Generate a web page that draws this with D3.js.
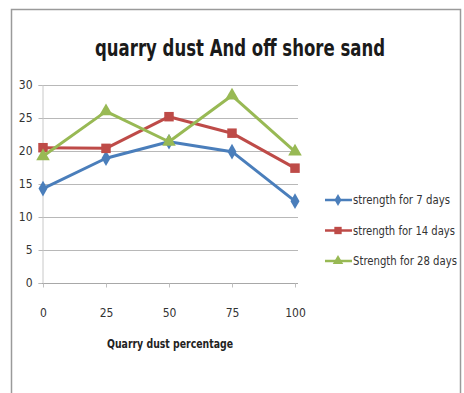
<!DOCTYPE html>
<html>
<head>
<meta charset="utf-8">
<script src="https://cdn.jsdelivr.net/npm/d3@7"></script>
<style>
  html, body { margin: 0; padding: 0; background: #fff; }
  svg { display: block; }
  text { font-family: "Liberation Sans Narrow", "DejaVu Sans Condensed", "Open Sans", sans-serif; }
</style>
</head>
<body>
<svg id="chart" width="464" height="393"></svg>
<script>
// Quarry dust replacement percentage (x categories)
const percentages = [0, 25, 50, 75, 100];
// Compressive strength values per curing period
const strength7 = [14.3, 18.9, 21.4, 19.9, 12.4];
const strength14 = [20.5, 20.4, 25.2, 22.7, 17.4];
const strength28 = [19.2, 26.0, 21.4, 28.4, 19.9];
const seriesNames = ["strength for 7 days", "strength for 14 days", "Strength for 28 days"];
const yTicks = [0, 5, 10, 15, 20, 25, 30];

const series = [
  { name: seriesNames[0], values: strength7, color: "#4A7EBB", shape: "diamond", w: 97 },
  { name: seriesNames[1], values: strength14, color: "#BE4B48", shape: "square", w: 102 },
  { name: seriesNames[2], values: strength28, color: "#98B954", shape: "triangle", w: 104 }
];

const svg = d3.select("#chart");

// chart frame
svg.append("path")
  .attr("d", "M11.5,393 V9.5 H460.5 V393")
  .attr("fill", "none").attr("stroke", "#9a9a9a").attr("stroke-width", 1.5);

const x = d3.scaleLinear().domain([0, 100]).range([43, 295]);
const y = d3.scaleLinear().domain([0, 30]).range([283, 85]);

// gridlines
svg.append("g").selectAll("line").data(yTicks.filter(d => d > 0)).join("line")
  .attr("x1", 42).attr("x2", 298)
  .attr("y1", d => Math.round(y(d)) + 0.5).attr("y2", d => Math.round(y(d)) + 0.5)
  .attr("stroke", "#b8b8b8").attr("stroke-width", 1);

// y axis
const yAxis = svg.append("g").attr("transform", "translate(42.5,0)")
  .call(d3.axisLeft(y).tickValues(yTicks).tickSize(4).tickPadding(6));
yAxis.select(".domain").attr("stroke", "#c8c8c8");
yAxis.selectAll(".tick line").attr("stroke", "#b8b8b8");
yAxis.selectAll("text").attr("font-size", 12).attr("fill", "#333");

// x axis
const xAxis = svg.append("g").attr("transform", "translate(0,283.5)")
  .call(d3.axisBottom(x).tickValues(percentages).tickSize(4).tickPadding(21).tickSizeOuter(0));
xAxis.select(".domain").attr("stroke", "#a8a8a8").attr("d", "M42,0H298");
xAxis.selectAll(".tick line").attr("stroke", "#c0c0c0");
xAxis.selectAll("text").attr("font-size", 12).attr("fill", "#333");

// title
svg.append("text").attr("x", 240).attr("y", 56).attr("text-anchor", "middle")
  .attr("font-size", 23).attr("font-weight", "bold").attr("fill", "#1a1a1a")
  .attr("textLength", 290).attr("lengthAdjust", "spacingAndGlyphs")
  .text("quarry dust And off shore sand");

// x axis title
svg.append("text").attr("x", 170).attr("y", 348).attr("text-anchor", "middle")
  .attr("font-size", 12.5).attr("font-weight", "bold").attr("fill", "#222")
  .attr("textLength", 126).attr("lengthAdjust", "spacingAndGlyphs")
  .text("Quarry dust percentage");

const symbolType = { diamond: d3.symbolDiamond, square: d3.symbolSquare, triangle: d3.symbolTriangle };
const symbolSize = { diamond: 70, square: 90, triangle: 80 };

const line = d3.line().x((d, i) => x(percentages[i])).y(d => y(d));

series.forEach(s => {
  svg.append("path").datum(s.values)
    .attr("d", line).attr("fill", "none")
    .attr("stroke", s.color).attr("stroke-width", 3).attr("stroke-linejoin", "round");
  svg.append("g").selectAll("path").data(s.values).join("path")
    .attr("transform", (d, i) => `translate(${x(percentages[i])},${y(d)})`)
    .attr("d", d3.symbol().type(symbolType[s.shape]).size(symbolSize[s.shape]))
    .attr("fill", s.color);
});

// legend
const legend = svg.append("g");
series.forEach((s, i) => {
  const ly = 200 + i * 30.5;
  const g = legend.append("g").attr("transform", `translate(0,${ly})`);
  g.append("line").attr("x1", 325).attr("x2", 352).attr("y1", 0).attr("y2", 0)
    .attr("stroke", s.color).attr("stroke-width", 2.5);
  g.append("path").attr("transform", "translate(338,0)")
    .attr("d", d3.symbol().type(symbolType[s.shape]).size(symbolSize[s.shape] * 0.6))
    .attr("fill", s.color);
  g.append("text").attr("x", 353).attr("y", 4).attr("font-size", 12).attr("fill", "#333")
    .attr("textLength", s.w).attr("lengthAdjust", "spacingAndGlyphs")
    .text(s.name);
});
</script>
</body>
</html>
